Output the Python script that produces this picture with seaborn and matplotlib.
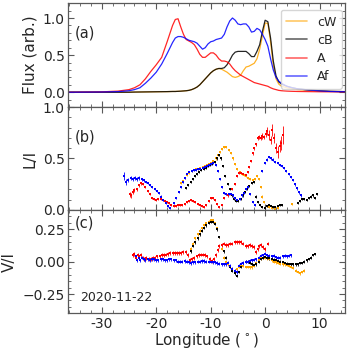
import numpy as np
import pandas as pd
import seaborn as sns
import matplotlib
matplotlib.use("Agg")
import matplotlib.pyplot as plt
from matplotlib.ticker import MultipleLocator, AutoMinorLocator

# ---- panel (a): flux profiles ----
lon_a = [-36, -30, -27, -25, -24, -23, -22, -21, -20, -19, -18, -17,
         -16.5, -16, -15.5, -15, -14.5, -14, -13.5, -13, -12.5, -12, -11.5, -11,
         -10.5, -10, -9.5, -9, -8.5, -8, -7.5, -7, -6.5, -6, -5.5, -5, -4.5, -4,
         -3.5, -3, -2.5, -2, -1.5, -1, -0.5, 0, 0.5, 1, 1.5, 2, 2.5, 3,
         4, 5, 6, 8, 10, 12, 14.6]
flux_cW = [0, 0, 0, 0, 0.002, 0.003, 0.004, 0.005, 0.006, 0.007, 0.008, 0.01,
           0.01, 0.012, 0.014, 0.017, 0.02, 0.025, 0.035, 0.05, 0.07, 0.10, 0.14, 0.18,
           0.22, 0.26, 0.29, 0.31, 0.32, 0.31, 0.29, 0.27, 0.24, 0.21, 0.20, 0.21, 0.23, 0.29,
           0.34, 0.35, 0.37, 0.39, 0.45, 0.58, 0.76, 0.93, 0.93, 0.68, 0.36, 0.18, 0.11, 0.08,
           0.06, 0.045, 0.035, 0.025, 0.018, 0.012, 0.008]
flux_cB = [0, 0, 0, 0, 0.002, 0.003, 0.004, 0.005, 0.006, 0.007, 0.008, 0.01,
           0.01, 0.012, 0.014, 0.017, 0.02, 0.025, 0.035, 0.05, 0.07, 0.10, 0.14, 0.18,
           0.22, 0.26, 0.29, 0.31, 0.32, 0.32, 0.33, 0.37, 0.43, 0.50, 0.54, 0.55, 0.55, 0.55,
           0.55, 0.52, 0.48, 0.48, 0.55, 0.64, 0.82, 0.97, 0.95, 0.73, 0.42, 0.22, 0.14, 0.11,
           0.08, 0.06, 0.045, 0.03, 0.02, 0.012, 0.008]
flux_A = [0, 0.005, 0.015, 0.035, 0.06, 0.10, 0.18, 0.28, 0.37, 0.47, 0.68, 0.90,
          0.98, 0.99, 0.88, 0.78, 0.71, 0.69, 0.67, 0.64, 0.58, 0.51, 0.47, 0.47,
          0.50, 0.53, 0.53, 0.50, 0.45, 0.42, 0.42, 0.41, 0.38, 0.33, 0.29, 0.26, 0.23, 0.21,
          0.19, 0.17, 0.15, 0.13, 0.12, 0.11, 0.10, 0.09, 0.08, 0.06, 0.045, 0.035, 0.025, 0.02,
          0.015, 0.012, 0.01, 0.008, 0.006, 0.005, 0.004]
flux_Af = [0, 0.003, 0.008, 0.02, 0.035, 0.06, 0.12, 0.19, 0.27, 0.38, 0.52, 0.67,
           0.73, 0.75, 0.75, 0.74, 0.72, 0.70, 0.69, 0.68, 0.66, 0.62, 0.58, 0.60,
           0.65, 0.68, 0.69, 0.71, 0.72, 0.73, 0.78, 0.88, 0.96, 1.0, 0.97, 0.92, 0.91, 0.92,
           0.92, 0.88, 0.81, 0.82, 0.86, 0.84, 0.78, 0.71, 0.62, 0.45, 0.30, 0.20, 0.15, 0.12,
           0.08, 0.06, 0.045, 0.03, 0.018, 0.01, 0.006]

# ---- panel (b): L/I ----
lon_b_cW = [-15.5, -15.1, -14.7, -14.3, -13.9, -13.5, -13.1, -12.7, -12.3, -11.9, -11.5, -11.1,
            -10.7, -10.3, -9.9, -9.5, -9.1, -8.7, -8.3, -7.9, -7.5, -7.1, -6.7, -6.3, -5.9,
            -5.5, -5.1, -4.7, -4.3, -3.9, -3.5, -3.1, -2.7, -2.3, -1.9, -1.5, -1.1, -0.8, -0.5,
            -0.2, 0.3, 0.8, 1.3, 1.8, 2.3, 5.0]
li_cW = [0.26, 0.28, 0.31, 0.34, 0.36, 0.38, 0.39, 0.40, 0.40, 0.41, 0.42, 0.43,
         0.44, 0.45, 0.46, 0.48, 0.50, 0.53, 0.56, 0.59, 0.61, 0.61, 0.58, 0.55, 0.50,
         0.45, 0.40, 0.37, 0.35, 0.34, 0.33, 0.31, 0.30, 0.29, 0.30, 0.33, 0.30, 0.22, 0.13,
         0.08, 0.04, 0.03, 0.02, 0.01, 0.02, 0.055]
lon_b_cB = [-14.5, -14.1, -13.7, -13.3, -12.9, -12.5, -12.1, -11.7, -11.3, -10.9, -10.5, -10.1,
            -9.7, -9.3, -8.9, -8.5, -8.1, -7.7, -7.3, -6.9, -6.5, -6.1, -5.7, -5.3, -4.9,
            -4.5, -4.1, -3.7, -3.3, -2.9, -2.5, -2.1, -1.7, -1.3, -0.9, -0.5, -0.1, 0.3,
            0.7, 1.1, 1.5, 1.9, 2.3, 2.7, 3.1, 6.0, 6.4, 6.8, 7.2, 7.6, 8.0, 8.4, 8.8, 9.2, 9.6]
li_cB = [0.21, 0.24, 0.27, 0.30, 0.33, 0.35, 0.37, 0.39, 0.40, 0.41, 0.43, 0.44,
         0.45, 0.47, 0.50, 0.53, 0.50, 0.43, 0.33, 0.25, 0.20, 0.14, 0.11, 0.09, 0.09,
         0.11, 0.14, 0.17, 0.20, 0.23, 0.26, 0.27, 0.13, 0.08, 0.05, 0.03, 0.02, 0.04,
         0.05, 0.04, 0.03, 0.03, 0.04, 0.045, 0.045, 0.07, 0.09, 0.11, 0.11, 0.10, 0.12, 0.13,
         0.14, 0.12, 0.15]
lon_b_A = [-24.9, -24.6, -24.3, -24.0, -23.6, -23.2, -22.8, -22.4, -22.0, -21.6, -21.2, -20.8,
           -20.4, -20.0, -19.6, -19.2, -18.8, -18.4, -18.0, -17.6, -17.2, -16.8, -16.4, -16.0,
           -15.6, -15.2, -14.8, -14.4, -14.0, -13.6, -13.2, -12.8, -12.4, -12.0, -11.6, -11.2,
           -10.8, -10.4, -10.0, -9.6, -9.2, -8.8, -8.4, -8.0, -7.6, -7.2, -6.8, -6.4, -6.0,
           -5.6, -5.2, -4.8, -4.4, -4.0, -3.6, -3.2, -2.9, -2.6, -2.3, -2.0, -1.7, -1.4, -1.1,
           -0.8, -0.5, -0.2, 0.1, 0.4, 0.7, 1.0, 1.3, 1.65, 2.0, 2.3, 2.7, 3.0, 3.3]
li_A = [0.15, 0.14, 0.17, 0.19, 0.20, 0.24, 0.26, 0.25, 0.22, 0.18, 0.15, 0.12,
        0.11, 0.10, 0.11, 0.11, 0.10, 0.09, 0.08, 0.07, 0.05, 0.04, 0.04, 0.05,
        0.05, 0.05, 0.06, 0.08, 0.09, 0.10, 0.09, 0.08, 0.06, 0.05, 0.04, 0.03,
        0.05, 0.09, 0.12, 0.12, 0.10, 0.06, 0.03, 0.05, 0.12, 0.15, 0.14, 0.15, 0.20,
        0.25, 0.33, 0.36, 0.36, 0.35, 0.34, 0.37, 0.42, 0.48, 0.55, 0.60, 0.64, 0.70, 0.71,
        0.70, 0.72, 0.71, 0.74, 0.77, 0.73, 0.68, 0.78, 0.70, 0.60, 0.56, 0.62, 0.65, 0.73]
err_b_A = [0.02, 0.02, 0.02, 0.02, 0.015, 0.015, 0.015, 0.01, 0.01, 0.01, 0.01, 0.01,
           0.01, 0.01, 0.01, 0.01, 0.01, 0.01, 0.01, 0.01, 0.01, 0.01, 0.01, 0.01,
           0.01, 0.01, 0.01, 0.01, 0.01, 0.01, 0.01, 0.01, 0.01, 0.01, 0.01, 0.01,
           0.01, 0.01, 0.01, 0.01, 0.01, 0.01, 0.01, 0.01, 0.01, 0.01, 0.01, 0.01, 0.01,
           0.01, 0.01, 0.01, 0.01, 0.01, 0.01, 0.01, 0.01, 0.01, 0.015, 0.015, 0.015, 0.02, 0.02,
           0.02, 0.03, 0.02, 0.03, 0.04, 0.05, 0.04, 0.06, 0.05, 0.05, 0.06, 0.06, 0.07, 0.09]
lon_b_Af = [-25.9, -25.5, -25.1, -24.7, -24.3, -23.9, -23.5, -23.1, -22.7, -22.3, -21.9, -21.5,
            -21.1, -20.7, -20.3, -19.9, -19.5, -19.1, -18.7, -18.3, -17.9, -17.5,
            -16.7, -16.3, -15.9, -15.5, -15.1, -14.7, -14.3, -13.9, -13.5, -13.1, -12.7, -12.3,
            -11.9, -11.5, -11.1, -10.7, -10.3, -9.9, -9.5, -9.1, -8.7, -8.3, -7.9, -7.5, -7.1,
            -6.7, -6.3, -5.9, -5.5, -5.1, -4.7, -4.3, -3.9, -3.5, -3.1, -2.7, -2.3, -1.9,
            -0.5, -0.1, 0.3, 0.7, 1.1, 1.5, 1.9, 2.3, 2.7, 3.1, 3.5, 3.9, 4.3, 4.7, 5.1,
            5.5, 5.9, 6.3, 6.6]
li_Af = [0.33, 0.27, 0.29, 0.31, 0.30, 0.31, 0.30, 0.31, 0.30, 0.29, 0.27, 0.26,
         0.24, 0.22, 0.20, 0.18, 0.16, 0.13, 0.10, 0.07, 0.04, 0.02,
         0.07, 0.12, 0.17, 0.22, 0.27, 0.31, 0.35, 0.37, 0.38, 0.39, 0.39, 0.40,
         0.40, 0.41, 0.42, 0.43, 0.44, 0.45, 0.46, 0.44, 0.38, 0.30, 0.22, 0.16, 0.15,
         0.15, 0.15, 0.14, 0.12, 0.10, 0.11, 0.14, 0.16, 0.20, 0.22, 0.15, 0.08, 0.05,
         0.38, 0.46, 0.49, 0.51, 0.50, 0.49, 0.47, 0.46, 0.44, 0.43, 0.41, 0.38, 0.35, 0.32, 0.29,
         0.25, 0.21, 0.17, 0.14]
err_b_Af = [0.04, 0.03, 0.02, 0.02, 0.02, 0.02, 0.02, 0.015, 0.015, 0.015, 0.01, 0.01,
            0.01, 0.01, 0.01, 0.01, 0.01, 0.01, 0.01, 0.01, 0.01, 0.01,
            0.01, 0.01, 0.01, 0.01, 0.01, 0.01, 0.01, 0.01, 0.01, 0.01, 0.01, 0.01,
            0.01, 0.01, 0.01, 0.01, 0.01, 0.01, 0.01, 0.01, 0.01, 0.01, 0.01, 0.01, 0.01,
            0.01, 0.01, 0.01, 0.01, 0.01, 0.01, 0.01, 0.01, 0.01, 0.01, 0.01, 0.01, 0.01,
            0.01, 0.01, 0.01, 0.01, 0.01, 0.01, 0.01, 0.01, 0.01, 0.01, 0.01, 0.01, 0.012, 0.012, 0.012,
            0.015, 0.015, 0.015, 0.015]

# ---- panel (c): V/I ----
lon_c_cW = [-13.6, -13.2, -12.8, -12.4, -12.0, -11.6, -11.2, -10.8, -10.4, -10.0, -9.6, -9.2,
            -8.8, -8.4, -8.0, -7.6, -7.2, -6.8, -6.4, -6.0, -5.6, -5.2, -4.8, -4.4, -4.0,
            -3.6, -3.2, -2.8, -2.4, -2.0, -1.6, -1.2, -0.8, -0.4, 0.0, 0.4, 0.8, 1.2, 1.6,
            2.0, 2.4, 2.8, 3.2, 3.6, 4.0, 4.4, 4.8, 5.2, 5.6, 6.0, 6.4, 6.8, 7.2]
vi_cW = [0.10, 0.14, 0.18, 0.21, 0.24, 0.26, 0.28, 0.30, 0.31, 0.32, 0.32, 0.30,
         0.26, 0.19, 0.10, 0.03, 0.0, -0.02, -0.04, -0.06, -0.07, -0.06, -0.04, -0.03, -0.03,
         -0.04, -0.04, -0.045, -0.045, -0.03, -0.01, 0.01, 0.025, 0.03, 0.03, 0.025, 0.02, 0.01, 0.0,
         -0.005, -0.01, -0.015, -0.02, -0.02, -0.025, -0.03, -0.04, -0.05, -0.07, -0.08, -0.09, -0.08, -0.07]
lon_c_cB = [-13.6, -13.2, -12.8, -12.4, -12.0, -11.6, -11.2, -10.8, -10.4, -10.0, -9.6, -9.2,
            -8.8, -8.4, -8.0, -7.6, -7.2, -6.8, -6.4, -6.0, -5.6, -5.2, -4.8, -4.4, -4.0,
            -3.6, -3.2, -2.8, -2.4, -2.0, -1.6, -1.2, -0.8, -0.4, 0.0, 0.4, 0.8, 1.2, 1.6,
            2.0, 2.4, 2.8, 3.2, 3.6, 4.0, 4.4, 4.8, 5.2, 5.6, 6.0, 6.4, 6.8, 7.2, 7.6, 8.0,
            8.4, 8.8, 9.2]
vi_cB = [0.08, 0.12, 0.15, 0.18, 0.21, 0.24, 0.26, 0.28, 0.30, 0.31, 0.31, 0.29,
         0.25, 0.19, 0.13, 0.08, 0.03, -0.01, -0.04, -0.07, -0.09, -0.11, -0.08, -0.04, -0.01,
         0.0, 0.0, -0.01, -0.02, -0.025, -0.02, 0.0, 0.02, 0.03, 0.035, 0.03, 0.025, 0.02, 0.015,
         0.01, 0.005, 0.0, -0.005, -0.01, -0.015, -0.02, -0.02, -0.02, -0.02, -0.02, -0.01, -0.01,
         0.0, 0.01, 0.02, 0.03, 0.05, 0.06]
lon_c_A = [-24.3, -24.0, -23.7, -23.4, -23.1, -22.8, -22.5, -22.2, -21.8, -21.4, -21.0, -20.6,
           -20.2, -19.8, -19.4, -19.0, -18.6, -18.2, -17.8, -17.4, -17.0, -16.6, -16.2, -15.8,
           -15.4, -15.0, -14.6, -14.2, -13.8, -13.4, -13.0, -12.6, -12.2, -11.8, -11.4, -11.0,
           -10.6, -10.2, -9.8, -9.4, -9.0, -8.7, -8.4, -8.0, -7.6, -7.2, -6.8, -6.4, -6.0,
           -5.6, -5.2, -4.8, -4.4, -4.0, -3.6, -3.2, -2.8, -2.4, -2.0, -1.7, -1.4, -1.1, -0.8,
           -0.4, 0.0, 0.6]
vi_A = [0.05, 0.06, 0.03, 0.05, 0.04, 0.05, 0.03, 0.02, 0.03, 0.02, 0.02, 0.03,
        0.03, 0.04, 0.04, 0.05, 0.05, 0.055, 0.06, 0.065, 0.07, 0.07, 0.07, 0.07,
        0.07, 0.075, 0.075, 0.05, 0.01, 0.02, 0.03, 0.04, 0.05, 0.055, 0.055, 0.05,
        0.04, 0.02, 0.005, 0.02, 0.05, 0.09, 0.12, 0.13, 0.14, 0.13, 0.13, 0.14, 0.14,
        0.15, 0.15, 0.155, 0.15, 0.14, 0.12, 0.12, 0.13, 0.12, 0.11, 0.075, 0.10, 0.12, 0.13,
        0.11, 0.10, 0.14]
lon_c_Af = [-23.8, -23.5, -23.2, -22.9, -22.6, -22.3, -22.0, -21.6, -21.2, -20.8, -20.4, -20.0,
            -19.6, -19.2, -18.8, -18.4, -18.0, -17.6, -17.2, -16.8, -16.4, -16.0, -15.6, -15.2,
            -14.8, -14.4, -14.0, -13.6, -13.2, -12.8, -12.4, -12.0, -11.6, -11.2, -10.8, -10.4,
            -10.0, -9.6, -9.2, -8.8, -8.4, -8.0, -7.6, -7.2, -6.8, -6.4, -6.0, -5.6, -5.2,
            -4.8, -4.4, -4.0, -3.6, -3.2, -2.8, -2.4, -2.0, -1.6, -1.2, -0.8, -0.4, 0.0,
            0.4, 0.8, 1.2, 1.6, 2.0, 2.4, 2.8, 3.2, 3.6, 4.0, 4.4, 4.8]
vi_Af = [0.04, 0.01, 0.03, 0.01, 0.03, 0.02, 0.01, 0.02, 0.01, 0.02, 0.02, 0.01,
         0.01, 0.02, 0.02, 0.01, 0.01, 0.02, 0.02, 0.01, 0.01, 0.0, 0.0, 0.0,
         0.005, 0.0, -0.005, -0.01, -0.005, -0.005, 0.0, 0.0, 0.005, 0.005, 0.0, 0.0,
         0.0, -0.005, -0.005, -0.01, -0.015, -0.02, -0.02, -0.02, -0.01, -0.03, -0.055, -0.07, -0.08,
         -0.03, -0.015, -0.01, 0.0, 0.0, 0.005, 0.01, 0.015, 0.02, 0.03, 0.045, 0.05, 0.06,
         0.05, 0.045, 0.04, 0.045, 0.035, 0.03, 0.03, 0.04, 0.045, 0.04, 0.045, 0.05]

colors = {"cW": "orange", "cB": "black", "A": "red", "Af": "blue"}

sns.set_style("ticks", {"xtick.direction": "in", "ytick.direction": "in",
                        "axes.edgecolor": "0.35"})
plt.rcParams["font.family"] = ["DejaVu Sans"]
plt.rcParams["font.size"] = 10

fig = plt.figure(figsize=(3.49, 3.51), dpi=100)
left, width = 0.195, 0.794
ax_a = fig.add_axes([left, 0.695, width, 0.296])
ax_b = fig.add_axes([left, 0.402, width, 0.293], sharex=ax_a)
ax_c = fig.add_axes([left, 0.107, width, 0.295], sharex=ax_a)

flux = {"cW": flux_cW, "cB": flux_cB, "A": flux_A, "Af": flux_Af}
df_a = pd.concat([pd.DataFrame({"lon": lon_a, "flux": v, "src": k}) for k, v in flux.items()])
sns.lineplot(data=df_a, x="lon", y="flux", hue="src", palette=colors, sort=False,
             lw=0.9, alpha=0.85, ax=ax_a, legend=False)
for k in flux:
    ax_a.plot([], [], color=colors[k], lw=1.2, alpha=0.6, label=k)
leg = ax_a.legend(loc="upper right", bbox_to_anchor=(0.988, 0.935), borderaxespad=0,
                  fontsize=9, frameon=True, handlelength=1.7, handletextpad=0.75,
                  borderpad=0.45, labelspacing=0.42)
leg.get_frame().set_edgecolor("0.8")

b_sets = [("cW", lon_b_cW, li_cW, 0.01), ("cB", lon_b_cB, li_cB, 0.01),
          ("A", lon_b_A, li_A, err_b_A), ("Af", lon_b_Af, li_Af, err_b_Af)]
for k, x, y, e in b_sets:
    ax_b.errorbar(x, y, yerr=e, fmt="s", ms=1.7, mew=0, color=colors[k],
                  elinewidth=0.6, capsize=0)

c_sets = [("cW", lon_c_cW, vi_cW, 0.01), ("cB", lon_c_cB, vi_cB, 0.01),
          ("A", lon_c_A, vi_A, 0.015), ("Af", lon_c_Af, vi_Af, 0.012)]
for k, x, y, e in c_sets:
    ax_c.errorbar(x, y, yerr=e, fmt="s", ms=1.7, mew=0, color=colors[k],
                  elinewidth=0.6, capsize=0)

ax_a.set_xlim(-36.2, 14.7)
ax_a.set_ylim(-0.2, 1.2)
ax_b.set_ylim(0, 1.0)
ax_c.set_ylim(-0.4, 0.4)
ax_a.yaxis.set_major_locator(MultipleLocator(0.5))
ax_b.yaxis.set_major_locator(MultipleLocator(0.5))
ax_c.yaxis.set_major_locator(MultipleLocator(0.25))
ax_c.set_xticks([-30, -20, -10, 0, 10])
ax_c.set_xticklabels(["-30", "-20", "-10", "0", "10"])

for ax in (ax_a, ax_b, ax_c):
    ax.xaxis.set_minor_locator(MultipleLocator(2))
    ax.yaxis.set_minor_locator(AutoMinorLocator(5))
    ax.tick_params(which="both", direction="in", top=True, right=True, color="0.35")
    ax.tick_params(which="major", length=4, width=0.8, labelsize=10, pad=2.5)
    ax.tick_params(which="minor", length=2, width=0.6)
    for s in ax.spines.values():
        s.set_linewidth(0.9)
for ax in (ax_a, ax_b):
    ax.tick_params(labelbottom=False)
    ax.set_xlabel("")

ax_a.set_ylabel("Flux (arb.)", fontsize=11)
ax_b.set_ylabel("L/I", fontsize=11)
ax_c.set_ylabel("V/I", fontsize=11)
ax_c.set_xlabel(r"Longitude ($^\circ$)", fontsize=11, labelpad=0)

ax_a.text(0.025, 0.71, "(a)", transform=ax_a.transAxes, fontsize=10.5, va="center")
ax_b.text(0.025, 0.71, "(b)", transform=ax_b.transAxes, fontsize=10.5, va="center")
ax_c.text(0.025, 0.87, "(c)", transform=ax_c.transAxes, fontsize=10.5, va="center")
ax_c.text(0.045, 0.15, "2020-11-22", transform=ax_c.transAxes, fontsize=9, va="center")

fig.savefig("out.png", dpi=100)
